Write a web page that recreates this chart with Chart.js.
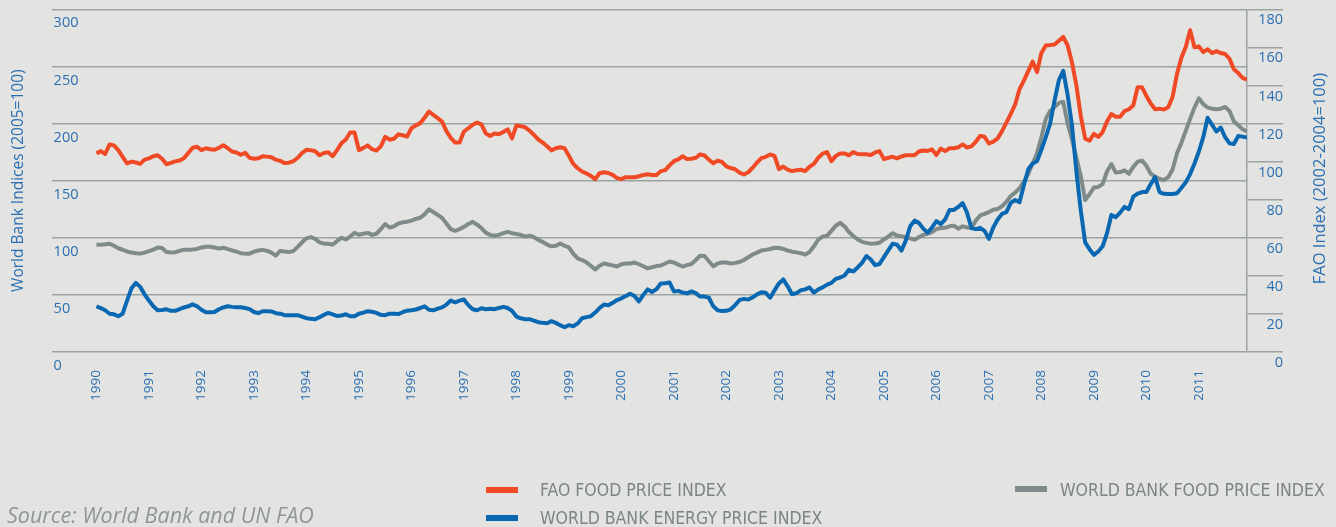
<!DOCTYPE html>
<html>
<head>
<meta charset="utf-8">
<title>Food and energy price indices 1990-2011</title>
<script src="https://cdn.jsdelivr.net/npm/chart.js@4.4.1/dist/chart.umd.min.js"></script>
<style>
  html, body { margin: 0; padding: 0; background: #e3e4e1; }
  #wrap { position: relative; width: 1336px; height: 527px; overflow: hidden; }
  #chart { position: absolute; left: 0; top: 0; }
  .swatch { position: absolute; width: 32px; height: 6px; }
  .legend-text {
    position: absolute;
    font-family: "Liberation Sans Narrow", "DejaVu Sans Condensed", sans-serif;
    font-size: 17.5px;
    line-height: 17px;
    color: #7b8585;
    white-space: nowrap;
  }
  #source {
    position: absolute; left: 7px; top: 503px;
    font-family: "Open Sans", sans-serif; font-style: italic;
    font-size: 21.5px; line-height: 24px; color: #8e9696; white-space: nowrap;
  }
</style>
</head>
<body>
<div id="wrap">
  <canvas id="chart" width="1336" height="527"></canvas>
  <div id="legend"></div>
  <div id="source">Source: World Bank and UN FAO</div>
</div>
<script>
// monthly values, Jan 1990 .. Dec 2011
const years = ['1990', '1991', '1992', '1993', '1994', '1995', '1996', '1997', '1998', '1999', '2000',
  '2001', '2002', '2003', '2004', '2005', '2006', '2007', '2008', '2009', '2010', '2011'];

// FAO food price index (2002-2004=100), right axis
const faoFood = [
  104.3, 105.5, 104, 109, 108.5, 106, 102.5, 99, 100, 99.5, 98.8, 101,
  101.7, 102.8, 103.3, 101.5, 98.6, 99.3, 100.1, 100.6, 101.8, 104.5, 107.3, 107.8,
  106, 107, 106.5, 106.2, 107.2, 108.6, 107, 105.3, 104.8, 103.6, 104.6, 102,
  101.5, 101.7, 102.8, 102.6, 102.3, 101, 100.4, 99.2, 99.4, 100.2, 102, 104.5,
  106.2, 106, 105.4, 103.3, 104.5, 104.9, 102.8, 106, 109.6, 111.6, 115.3, 115.3,
  106, 107.2, 108.5, 106.5, 105.8, 108, 113, 111.5, 112, 114.3, 113.8, 113.2,
  117.5, 119, 120.2, 123, 126.3, 124.5, 122.8, 121, 116, 112.5, 110, 110,
  115.8, 117.5, 119.3, 120.5, 119.5, 114.8, 113.4, 114.7, 114.4, 115.5, 116.9, 112.2,
  119, 118.6, 118, 116.3, 114, 111.6, 110, 108, 105.9, 107, 107.5, 107,
  103, 98.8, 96.5, 94.8, 93.8, 92.5, 90.8, 93.9, 94.4, 94, 93, 91.3,
  90.8, 91.8, 91.8, 91.8, 92.3, 93, 93.3, 93, 92.9, 95, 95.5, 98,
  100.2, 101.2, 102.8, 101.3, 101.5, 102, 103.8, 103.2, 101, 99.1, 100.5, 99.8,
  97.5, 96.6, 96, 94.2, 93.2, 94.4, 96.8, 99.5, 101.8, 102.5, 103.7, 103,
  96, 97.4, 95.8, 95, 95.4, 95.7, 95, 97.3, 98.8, 102, 104.2, 105,
  100.2, 103, 104.3, 104.3, 103.3, 105, 104, 103.8, 103.8, 103.5, 104.8, 105.5,
  101.3, 102, 102.5, 101.7, 102.7, 103.3, 103.3, 103.3, 105.3, 105.8, 105.6, 106.4,
  103.5, 106.8, 105.5, 107, 107, 107.5, 109, 107.4, 108, 110.4, 113.5, 113,
  109.5, 110.5, 112.2, 116, 120.5, 125, 130, 138, 142.5, 147.5, 152.5, 147,
  157, 161, 161.2, 161.5, 163.5, 165.5, 161, 152, 140, 124, 112, 111,
  114.5, 113, 115.5, 121, 125, 123.5, 123.5, 126.5, 127.5, 129.5, 139, 139,
  134.5, 130.5, 127.5, 127.8, 127.3, 128.5, 134, 146, 154.5, 160.2, 169, 160,
  160.5, 157.5, 159, 157, 158, 157, 156.5, 154, 148.5, 146.5, 144, 143
];

// World Bank energy price index (2005=100), left axis
const wbEnergy = [
  40, 38.5, 36.5, 33.5, 33, 31.3, 33.5, 45, 55.7, 60.5, 57, 50.5,
  45, 40, 36.5, 36.8, 37.4, 36, 36, 37.5, 39, 40, 41.7, 40,
  37, 34.8, 34.8, 35, 37.4, 39, 40, 39.5, 39.1, 39.1, 38.5, 37.5,
  35, 34, 35.7, 35.7, 35.5, 34, 33.5, 32.2, 32.2, 32.2, 32.2, 31,
  29.6, 29, 28.7, 30.5, 32.5, 34.2, 33, 31.5, 32, 33, 31.3, 31.3,
  33.5, 34.5, 35.7, 35.2, 34.2, 32.5, 32.2, 33.5, 33.5, 33.2, 34.8, 36.2,
  36.5, 37.2, 38.5, 40, 37, 36.5, 38, 39.1, 41.5, 45, 43.5, 45,
  46, 41, 37.4, 36.5, 38.3, 37.4, 37.8, 37.5, 38.5, 39.5, 38.5, 36,
  31, 29.5, 28.7, 28.7, 27.5, 26.1, 25.5, 25.2, 27, 25.5, 23.5, 21.7,
  23.5, 22.5, 25, 29.5, 30.5, 31.3, 34.5, 38.5, 41.5, 41, 43, 45.5,
  47, 49, 51, 49, 44.3, 50, 54.8, 52.5, 55, 60, 60.2, 60.9,
  53, 53.5, 52, 51.3, 53, 51.5, 48.5, 48.5, 47.5, 40, 36.5, 35.8,
  36, 37.4, 41, 45.5, 46.5, 46, 47.8, 50.5, 52.2, 51.8, 47.5, 54,
  60, 63.5, 57.5, 50.5, 51.5, 54, 54.8, 56.5, 52, 54.8, 56.5, 59,
  60.5, 64, 65.2, 67, 72, 70.5, 74, 78, 84, 81, 76, 77,
  83, 89, 94.8, 94, 88.7, 97.5, 110, 115, 113, 108, 104.5, 109,
  114.5, 112, 116, 124.3, 124.3, 127, 130.4, 122, 108.5, 107.5, 108.7, 106,
  99, 109, 116, 120.9, 122.5, 130.5, 133, 131, 146, 160, 165, 167,
  177, 188, 200, 220, 238, 246, 225, 198, 158, 124, 96, 90,
  85, 88, 92.5, 104, 120, 118, 122, 127, 125, 136, 138.6, 140,
  140, 147, 153, 140, 138.5, 138.3, 138.3, 139, 143.5, 148.5, 155.7, 165,
  175.5, 188, 205, 199, 193, 196.5, 188, 182.6, 182, 189, 188.5, 187.8
];

// World Bank food price index (2005=100), left axis
const wbFood = [
  93.9, 93.9, 94.3, 94.8, 93, 90.8, 89.5, 88, 87, 86.5, 86.1, 87,
  88.3, 89.6, 91.5, 91, 87.5, 87, 87.3, 88.5, 89.6, 89.6, 89.8, 90.2,
  91.5, 92.2, 92.2, 91.5, 90.5, 91.3, 90, 89, 87.8, 86.5, 86.1, 86.1,
  87.8, 88.8, 89.4, 88.5, 87, 84.3, 88.5, 88, 87.6, 88.3, 92, 96,
  99.5, 100.5, 99, 96, 94.8, 94.8, 93.9, 97, 100, 98.5, 101, 104.3,
  102.6, 103.5, 104.3, 102.5, 103.5, 107.5, 112, 109, 110, 112.5, 113.5, 114,
  115, 116.5, 117.5, 120.5, 124.8, 122.5, 120, 117.4, 112.5, 107.5, 106.1, 107.5,
  109.5, 112, 113.9, 111.5, 108.5, 104.5, 102.5, 101.7, 102.5, 104, 105.2, 104,
  103.3, 102.5, 101, 101.8, 100.5, 98.3, 96.2, 94, 92.5, 93, 95, 93,
  91.5, 86, 82, 80.5, 78.5, 75.5, 72.2, 75.5, 77.4, 76.6, 75.8, 74.8,
  76.8, 77.4, 77.4, 78.3, 76.8, 75, 73.2, 74.2, 75.2, 75.7, 77.5, 79.2,
  78.3, 76.5, 74.8, 76, 77, 80.5, 84.3, 84, 79.5, 75, 77.5, 78.3,
  78.3, 77.5, 78, 78.8, 80.5, 83, 85.3, 87, 88.8, 89.4, 90.2, 91.2,
  91, 90.2, 88.8, 87.8, 87.2, 86.5, 85.2, 87.5, 92.5, 98.5, 101, 101.7,
  106, 110.5, 113, 110, 105, 101.5, 98.5, 96.4, 95.5, 94.8, 95, 95.7,
  98.5, 101, 104, 102, 101.3, 100.5, 99.5, 98.3, 100.5, 102.5, 103.5, 105,
  107.5, 108.5, 108.7, 110, 110.5, 108, 110, 109, 108.5, 115, 119.5, 120.9,
  122.5, 124.5, 125.2, 127.5, 131.5, 136.5, 139.5, 143.5, 149, 156, 165, 174,
  188, 204, 211, 214.5, 218, 219, 200, 186, 170, 154, 133, 138,
  144, 144.5, 147, 158, 164.5, 157, 157.5, 159, 156, 162, 166.5, 167.5,
  163, 156, 153.5, 151.5, 150.5, 153, 160, 174, 183, 193.5, 204, 214,
  222, 217, 214, 213, 212.5, 213, 214.5, 211, 202, 198.5, 195, 193
];

const axisBlue = '#2a6fb4';
const gridGrey = '#9ba4a3';

const toPoints = (values) => values.map((v, i) => ({ x: i, y: v }));

const lineStyle = {
  borderWidth: 4,
  pointRadius: 0,
  tension: 0,
  borderJoinStyle: 'round',
  fill: false
};

// draws the right axis title reading bottom to top
const rightAxisTitle = {
  id: 'rightAxisTitle',
  afterDraw(chart) {
    const { ctx, chartArea } = chart;
    ctx.save();
    ctx.translate(1320, (chartArea.top + chartArea.bottom) / 2 - 2);
    ctx.rotate(-Math.PI / 2);
    ctx.fillStyle = axisBlue;
    ctx.font = "16.5px 'Open Sans', sans-serif";
    ctx.textAlign = 'center';
    ctx.textBaseline = 'middle';
    ctx.fillText('FAO Index (2002-2004=100)', 0, 0);
    ctx.restore();
  }
};

Chart.defaults.font.family = "'Open Sans', sans-serif";

const chart = new Chart(document.getElementById('chart').getContext('2d'), {
  type: 'line',
  data: {
    datasets: [
      { label: 'FAO FOOD PRICE INDEX', data: toPoints(faoFood), yAxisID: 'yRight', borderColor: '#ef4a25', backgroundColor: '#ef4a25', ...lineStyle },
      { label: 'WORLD BANK ENERGY PRICE INDEX', data: toPoints(wbEnergy), yAxisID: 'yLeft', borderColor: '#0a68b2', backgroundColor: '#0a68b2', ...lineStyle },
      { label: 'WORLD BANK FOOD PRICE INDEX', data: toPoints(wbFood), yAxisID: 'yLeft', borderColor: '#7f8b8a', backgroundColor: '#7f8b8a', ...lineStyle }
    ]
  },
  options: {
    responsive: false,
    animation: false,
    devicePixelRatio: 1,
    layout: { padding: { top: 7, right: 53, left: 0, bottom: 0 } },
    plugins: {
      legend: { display: false },
      tooltip: { enabled: false }
    },
    scales: {
      x: {
        type: 'linear',
        min: -10.25,
        max: 263,
        grid: { display: false },
        border: { display: false },
        afterBuildTicks: (scale) => {
          scale.ticks = years.map((y, k) => ({ value: k * 12 }));
        },
        afterFit: (scale) => { scale.height = 175; },
        ticks: {
          autoSkip: false,
          minRotation: 90,
          maxRotation: 90,
          padding: 10,
          color: axisBlue,
          font: { size: 13.5 },
          callback: (value) => years[Math.round(value / 12)]
        }
      },
      yLeft: {
        position: 'left',
        min: 0,
        max: 300,
        grid: { color: gridGrey, lineWidth: 1.5, drawTicks: false },
        border: { display: false },
        ticks: {
          stepSize: 50,
          mirror: true,
          padding: 2,
          labelOffset: 14,
          color: axisBlue,
          font: { size: 14.5, lineHeight: 1 }
        },
        title: {
          display: true,
          text: 'World Bank Indices (2005=100)',
          color: axisBlue,
          font: { size: 15.5 },
          padding: { top: 9, bottom: 20 }
        }
      },
      yRight: {
        position: 'right',
        min: 0,
        max: 180,
        grid: { drawOnChartArea: false, tickLength: 36, color: gridGrey, lineWidth: 1.5 },
        border: { display: true, color: gridGrey, width: 1.5 },
        afterFit: (scale) => { scale.width = 36; },
        ticks: {
          stepSize: 20,
          crossAlign: 'far',
          padding: 0,
          labelOffset: 11,
          color: axisBlue,
          font: { size: 14.5, lineHeight: 1 }
        }
      }
    }
  },
  plugins: [rightAxisTitle]
});

// legend laid out in two columns under the plot
const legendSlots = [
  { swatchX: 486, swatchY: 487, textX: 540, textY: 482 },
  { swatchX: 486, swatchY: 515, textX: 540, textY: 510 },
  { swatchX: 1015, swatchY: 486, textX: 1060, textY: 482 }
];
const legendBox = document.getElementById('legend');
chart.data.datasets.forEach((ds, k) => {
  const slot = legendSlots[k];
  const sw = document.createElement('div');
  sw.className = 'swatch';
  sw.style.left = slot.swatchX + 'px';
  sw.style.top = slot.swatchY + 'px';
  sw.style.background = ds.borderColor;
  legendBox.appendChild(sw);
  const txt = document.createElement('div');
  txt.className = 'legend-text';
  txt.style.left = slot.textX + 'px';
  txt.style.top = slot.textY + 'px';
  txt.textContent = ds.label;
  legendBox.appendChild(txt);
});
</script>
</body>
</html>
